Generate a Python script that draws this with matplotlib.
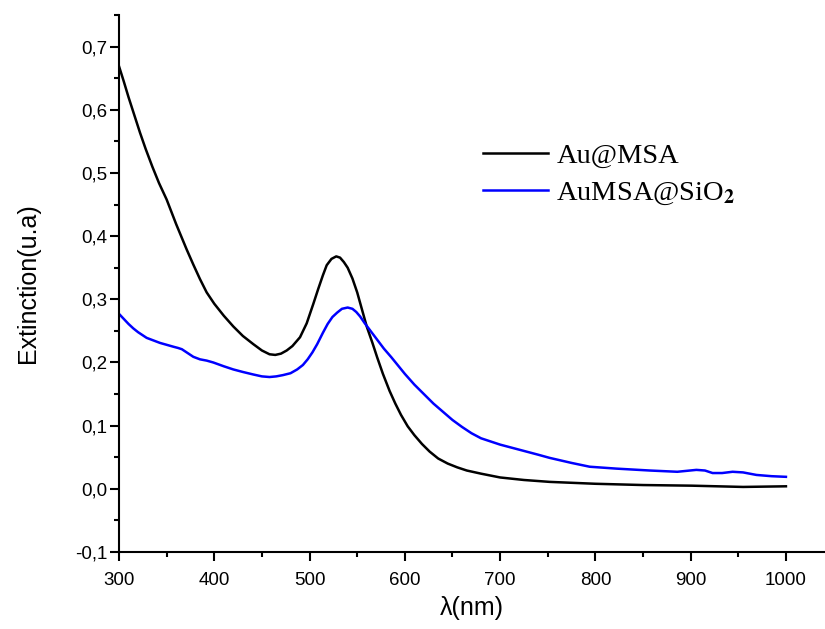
import matplotlib
matplotlib.use("Agg")
from matplotlib import pyplot as plt
from matplotlib.ticker import MultipleLocator, FuncFormatter

plt.rcParams["font.family"] = ["Liberation Sans", "DejaVu Sans"]
plt.rcParams["mathtext.fontset"] = "stix"

# wavelength (nm) and extinction
au_x = [300, 305, 310, 316, 322, 328, 335, 342, 350, 360, 371, 378, 385, 392,
        400, 410, 420, 430, 441, 450, 458, 464, 470, 476, 482, 490, 497, 504,
        509, 514, 518, 523, 528, 532, 536, 540, 545, 550, 555, 560, 566, 571,
        577, 584, 590, 596, 603, 610, 618, 626, 635, 645, 655, 665, 680, 700,
        725, 752, 800, 850, 901, 955, 1000]
au_y = [0.669, 0.645, 0.620, 0.592, 0.564, 0.538, 0.510, 0.484, 0.458, 0.419,
        0.379, 0.355, 0.332, 0.311, 0.293, 0.274, 0.257, 0.242, 0.229, 0.219,
        0.213, 0.212, 0.214, 0.219, 0.226, 0.240, 0.262, 0.293, 0.316, 0.338,
        0.354, 0.364, 0.368, 0.366, 0.359, 0.350, 0.333, 0.311, 0.284, 0.257,
        0.231, 0.208, 0.182, 0.155, 0.135, 0.117, 0.099, 0.085, 0.071, 0.059,
        0.048, 0.040, 0.034, 0.029, 0.024, 0.018, 0.014, 0.011, 0.008, 0.006,
        0.005, 0.003, 0.004]

sio2_x = [300, 305, 310, 315, 320, 325, 329, 336, 343, 350, 357, 362, 366, 372,
          378, 385, 392, 399, 410, 420, 430, 441, 450, 458, 465, 472, 480, 487,
          493, 498, 503, 508, 514, 519, 524, 529, 534, 540, 545, 549, 553, 558,
          564, 571, 578, 586, 593, 600, 610, 620, 630, 640, 650, 660, 670, 680,
          690, 700, 720, 740, 752, 775, 794, 822, 857, 886, 906, 915, 923, 933,
          944, 955, 969, 985, 1000]
sio2_y = [0.277, 0.269, 0.261, 0.254, 0.248, 0.243, 0.239, 0.235, 0.231, 0.228,
          0.225, 0.223, 0.221, 0.215, 0.209, 0.205, 0.203, 0.200, 0.194, 0.189,
          0.185, 0.181, 0.178, 0.177, 0.178, 0.180, 0.183, 0.189, 0.196, 0.205,
          0.216, 0.229, 0.247, 0.261, 0.272, 0.279, 0.285, 0.287, 0.285, 0.280,
          0.273, 0.262, 0.250, 0.236, 0.222, 0.208, 0.195, 0.182, 0.165, 0.150,
          0.135, 0.122, 0.109, 0.098, 0.088, 0.080, 0.075, 0.070, 0.062, 0.054,
          0.049, 0.041, 0.035, 0.032, 0.029, 0.027, 0.030, 0.029, 0.025, 0.025,
          0.027, 0.026, 0.022, 0.020, 0.019]

fig = plt.figure(figsize=(8.25, 6.29), dpi=100)
ax = fig.add_axes([119 / 825, 1 - 552 / 629, (825 - 119) / 825, (552 - 15) / 629])

ax.plot(au_x, au_y, color="black", linewidth=1.8, label="Au@MSA")
ax.plot(sio2_x, sio2_y, color="#0000ff", linewidth=1.8, label=r"AuMSA@SiO$_\mathbf{2}$")

ax.set_xlim(300, 1041)
ax.set_ylim(-0.1, 0.7501)

#axes look
for s in ["top", "right"]:
    ax.spines[s].set_visible(False)
for s in ["left", "bottom"]:
    ax.spines[s].set_linewidth(1.5)

ax.xaxis.set_major_locator(MultipleLocator(100))
ax.xaxis.set_minor_locator(MultipleLocator(50))
ax.yaxis.set_major_locator(MultipleLocator(0.1))
ax.yaxis.set_minor_locator(MultipleLocator(0.05))
ax.yaxis.set_major_formatter(FuncFormatter(lambda v, p: ("%.1f" % v).replace(".", ",")))
ax.tick_params(which="major", direction="out", length=6.5, width=1.5, labelsize=13.5)
ax.tick_params(which="minor", direction="out", length=3.5, width=1.5)
ax.tick_params(axis="x", which="major", pad=8)
ax.tick_params(axis="y", which="major", pad=2)

ax.set_xlabel("λ(nm)", fontsize=18, labelpad=5)
ax.set_ylabel("Extinction(u.a)", fontsize=18, labelpad=25)

leg = ax.legend(loc="center left", bbox_to_anchor=(483 / 825, 1 - 175 / 629),
                bbox_transform=fig.transFigure, frameon=False, borderpad=0,
                borderaxespad=0, handlelength=2.3, handletextpad=0.28,
                labelspacing=0.38, prop={"family": "Liberation Serif", "size": 20.5})

fig.savefig("out.png", dpi=100)
